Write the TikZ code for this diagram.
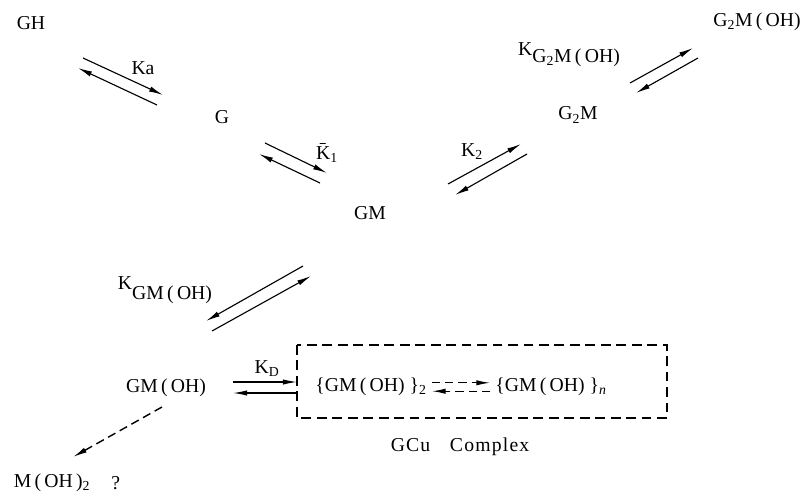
\documentclass[tikz,border=0pt]{standalone}
\usepackage{fontspec}
\setmainfont{Liberation Serif}
\usepackage{tikz}
\usetikzlibrary{arrows.meta,calc,positioning}
\newcommand\ohgrp{\,(\,OH)}

\begin{document}
\begin{tikzpicture}[x=.025cm,y=-.025cm,font=\fontsize{14}{16}\selectfont,
  >={Latex[length=10pt,width=3.8pt]},
  rxn/.style={->,line width=.8pt},
  drxn/.style={->,line width=1pt,dash pattern=on 6pt off 3.5pt},
  cubox/.style={draw,line width=1.2pt,dash pattern=on 7pt off 4pt}]
\useasboundingbox (0,0) rectangle (806,492);
\node (gh) at (31,23) {GH};
\node (g) at (222,117) {G};
\node (gm) at (370,213) {GM};
\node (gtwom) at (578,115) {G\textsubscript{2}M};
\node (gtwomoh) at (757,22) {G\textsubscript{2}M\ohgrp};
\node (gmoh) at (166,388) {GM\ohgrp};
\coordinate (bx1) at (297,345); \coordinate (bx2) at (667,418);
\draw[cubox] (bx1) rectangle (bx2);
\node (dimer) at (371,387) {\{GM\ohgrp\ \}\textsubscript{2}};
\node (polymer) at (551,387) {\{GM\ohgrp\ \}\textsubscript{\textit{n}}};
\node (cutext) at (460,447) {\addfontfeature{LetterSpace=6}GCu\quad Complex};
\node (mohtwo) at (52,483) {M\,(\,OH\,)\textsubscript{2}};
\node[right=8pt of mohtwo] (query) {?};
\node (ka) at (143,68) {Ka};
\node (kone) at (327,153) {\={K}\textsubscript{1}};
\node (ktwo) at (472,152) {K\textsubscript{2}};
\node (kgtwo) at (569,55) {K\raisebox{-5pt}{G\textsubscript{2}M\ohgrp}};
\node (kgm) at (165,290) {K\raisebox{-7pt}{GM\ohgrp}};
\node (kd) at (267,369) {K\textsubscript{D}};
\coordinate (a1) at (83,58); \coordinate (a2) at (163,95);
\coordinate (a3) at (157,105); \coordinate (a4) at (78,68);
\coordinate (b1) at (265,143); \coordinate (b2) at (327,173);
\coordinate (b3) at (320,183); \coordinate (b4) at (259,154);
\coordinate (c1) at (448,184); \coordinate (c2) at (521,144);
\coordinate (c3) at (527,154); \coordinate (c4) at (455,195);
\coordinate (d1) at (630,83); \coordinate (d2) at (693,48);
\coordinate (d3) at (698,58); \coordinate (d4) at (636,93);
\coordinate (e1) at (303,266); \coordinate (e2) at (206,321);
\coordinate (e3) at (212,331); \coordinate (e4) at (311,276);
\coordinate (f1) at (233,382); \coordinate (f3) at (233,393);
\coordinate (h1) at (162,407); \coordinate (h2) at (73,457);
\draw[rxn] (a1)--(a2); \draw[rxn] (a3)--(a4);
\draw[rxn] (b1)--(b2); \draw[rxn] (b3)--(b4);
\draw[rxn] (c1)--(c2); \draw[rxn] (c3)--(c4);
\draw[rxn] (d1)--(d2); \draw[rxn] (d3)--(d4);
\draw[rxn] (e1)--(e2); \draw[rxn] (e3)--(e4);
\draw[rxn] (f1)--(f1-|bx1);
\draw[rxn] (f3-|bx1)--(f3);
\draw[drxn] ([yshift=3pt]dimer.east)--([yshift=3pt]polymer.west);
\draw[drxn] ([yshift=-3pt]polymer.west)--([yshift=-3pt]dimer.east);
\draw[drxn] (h1)--(h2);
\end{tikzpicture}
\end{document}
